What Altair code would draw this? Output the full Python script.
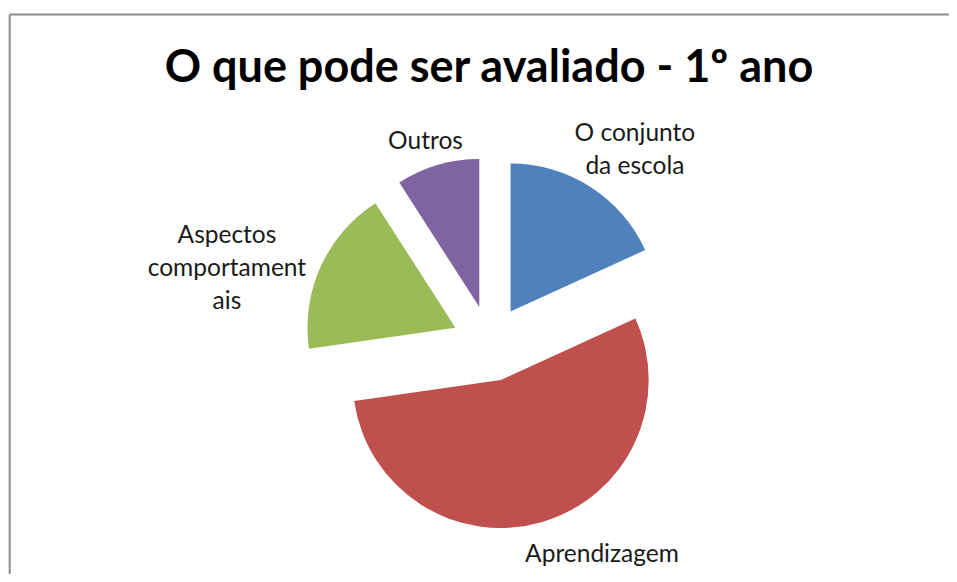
import altair as alt
import pandas as pd

# ---- data ----
categories = ["O conjunto da escola", "Aprendizagem", "Aspectos comportamentais", "Outros"]
label_text = ["O conjunto\nda escola", "Aprendizagem", "Aspectos\ncomportament\nais", "Outros"]
values = [2, 6, 2, 1]
colors = ["#4F81BD", "#C0504D", "#9BBB59", "#8064A2"]
title_text = "O que pode ser avaliado - 1º ano"

# ---- layout / style constants ----
W, H = 941, 566          # plot area (page has 8px margin)
CX, CY = 482, 335.5      # pie centre in plot pixels (y downward)
R = 148                  # pie radius
EXPLODE = 38             # explosion distance
LABEL_GAP = 20
CHAR_W = 12.4
LINE_H = 33
FONT = "Lato"
LABEL_SIZE = 24.5
TITLE_SIZE = 45
label_nudge_x = [0, 33, -8, 4]
label_nudge_y = [8, -2, 32, 12]
BORDER = "#8c8c8c"

lines = [t.split("\n") for t in label_text]
df = pd.DataFrame({
    "order": list(range(len(categories))),
    "cat": categories,
    "value": values,
    "label": label_text,
    "hw": [max(len(s) for s in l) * CHAR_W / 2 for l in lines],
    "hh": [len(l) * LINE_H / 2 for l in lines],
    "first": [(len(l) - 1) * LINE_H / 2 for l in lines],
    "ndx": label_nudge_x,
    "ndy": label_nudge_y,
})

base = (
    alt.Chart(df)
    .transform_joinaggregate(total="sum(value)")
    .transform_window(cum="sum(value)", sort=[alt.SortField("order")])
    .transform_calculate(
        start="2*PI*(datum.cum - datum.value)/datum.total",
        end="2*PI*datum.cum/datum.total",
    )
    .transform_calculate(mid="(datum.start + datum.end)/2")
    .transform_calculate(
        vx=f"{CX} + {EXPLODE}*sin(datum.mid)",
        vy=f"{CY} - {EXPLODE}*cos(datum.mid)",
    )
    .transform_calculate(
        lx=f"datum.vx + ({R}+{LABEL_GAP})*sin(datum.mid) + sin(datum.mid)*datum.hw + datum.ndx",
        ly=f"datum.vy - ({R}+{LABEL_GAP})*cos(datum.mid) - cos(datum.mid)*datum.hh + datum.ndy - datum.first",
    )
)

xscale = alt.Scale(domain=[0, W], nice=False, zero=False)
yscale = alt.Scale(domain=[0, H], nice=False, zero=False, reverse=True)

arcs = base.mark_arc(radius=R).encode(
    theta=alt.Theta("start:Q", scale=None, stack=None),
    theta2=alt.Theta2("end:Q"),
    x=alt.X("vx:Q", scale=xscale, axis=None),
    y=alt.Y("vy:Q", scale=yscale, axis=None),
    color=alt.Color("cat:N", scale=alt.Scale(domain=categories, range=colors), legend=None),
)

labels = base.mark_text(
    font=FONT, fontSize=LABEL_SIZE, align="center", baseline="middle",
    lineBreak="\n", lineHeight=LINE_H, color="#1a1a1a",
).encode(
    x=alt.X("lx:Q", scale=xscale, axis=None),
    y=alt.Y("ly:Q", scale=yscale, axis=None),
    text="label:N",
)

title = alt.Chart(pd.DataFrame({"t": [title_text]})).mark_text(
    font=FONT, fontSize=TITLE_SIZE, fontWeight="bold", align="center",
    baseline="alphabetic", color="#000000",
).encode(text="t:N", x=alt.value(481), y=alt.value(74))

dummy = pd.DataFrame({"a": [0]})
left_border = alt.Chart(dummy).mark_rule(color=BORDER, strokeWidth=2).encode(
    x=alt.value(1.7), y=alt.value(6.5), y2=alt.value(H)
)
top_border = alt.Chart(dummy).mark_rule(color=BORDER, strokeWidth=2).encode(
    x=alt.value(1.7), x2=alt.value(W), y=alt.value(6.5)
)

chart = (
    alt.layer(arcs, labels, title, left_border, top_border)
    .properties(width=W, height=H, autosize=alt.AutoSizeParams(type="none"), padding=0,
                background="white")
    .configure_view(strokeWidth=0, stroke="transparent")
)

chart.save("out.html", embed_options={"renderer": "svg", "actions": False})
